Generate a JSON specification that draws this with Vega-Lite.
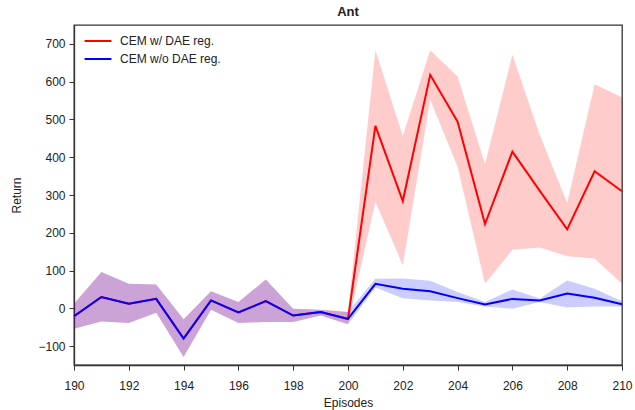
{
  "$schema": "https://vega.github.io/schema/vega-lite/v6.json",
  "width": 548,
  "height": 340,
  "autosize": {"type": "none"},
  "padding": {"left": 74, "top": 25, "right": 13, "bottom": 45},
  "title": {"text": "Ant", "fontSize": 13, "fontWeight": "bold", "font": "Liberation Sans", "color": "#222", "offset": 6},
  "config": {
    "font": "Liberation Sans",
    "view": {"stroke": "#333", "strokeWidth": 1.3},
    "axis": {"grid": false, "domainColor": "#333", "domainWidth": 1.3, "tickColor": "#333", "tickSize": 5, "labelFontSize": 12, "labelColor": "#222", "titleFontSize": 12, "titleFontWeight": "normal", "titleColor": "#222", "labelFlush": false, "labelOverlap": false}
  },
  "data": {"values": [
    {"s": "CEM w/ DAE reg.", "ep": 190, "m": -21, "lo": -54, "hi": 12},
    {"s": "CEM w/ DAE reg.", "ep": 191, "m": 30, "lo": -35, "hi": 96},
    {"s": "CEM w/ DAE reg.", "ep": 192, "m": 12, "lo": -39, "hi": 65},
    {"s": "CEM w/ DAE reg.", "ep": 193, "m": 25, "lo": -12, "hi": 63},
    {"s": "CEM w/ DAE reg.", "ep": 194, "m": -80, "lo": -129, "hi": -29},
    {"s": "CEM w/ DAE reg.", "ep": 195, "m": 21, "lo": -4, "hi": 45},
    {"s": "CEM w/ DAE reg.", "ep": 196, "m": -11, "lo": -39, "hi": 17},
    {"s": "CEM w/ DAE reg.", "ep": 197, "m": 19, "lo": -36, "hi": 76},
    {"s": "CEM w/ DAE reg.", "ep": 198, "m": -19, "lo": -36, "hi": -1},
    {"s": "CEM w/ DAE reg.", "ep": 199, "m": -10, "lo": -19, "hi": -4},
    {"s": "CEM w/ DAE reg.", "ep": 200, "m": -28, "lo": -42, "hi": -10},
    {"s": "CEM w/ DAE reg.", "ep": 201, "m": 483, "lo": 282, "hi": 683},
    {"s": "CEM w/ DAE reg.", "ep": 202, "m": 284, "lo": 114, "hi": 456},
    {"s": "CEM w/ DAE reg.", "ep": 203, "m": 618, "lo": 552, "hi": 683},
    {"s": "CEM w/ DAE reg.", "ep": 204, "m": 494, "lo": 375, "hi": 614},
    {"s": "CEM w/ DAE reg.", "ep": 205, "m": 223, "lo": 65, "hi": 382},
    {"s": "CEM w/ DAE reg.", "ep": 206, "m": 415, "lo": 155, "hi": 671},
    {"s": "CEM w/ DAE reg.", "ep": 207, "m": 311, "lo": 161, "hi": 459},
    {"s": "CEM w/ DAE reg.", "ep": 208, "m": 209, "lo": 138, "hi": 279},
    {"s": "CEM w/ DAE reg.", "ep": 209, "m": 363, "lo": 132, "hi": 593},
    {"s": "CEM w/ DAE reg.", "ep": 210, "m": 310, "lo": 65, "hi": 559},
    {"s": "CEM w/o DAE reg.", "ep": 190, "m": -21, "lo": -54, "hi": 12},
    {"s": "CEM w/o DAE reg.", "ep": 191, "m": 30, "lo": -35, "hi": 96},
    {"s": "CEM w/o DAE reg.", "ep": 192, "m": 12, "lo": -39, "hi": 65},
    {"s": "CEM w/o DAE reg.", "ep": 193, "m": 25, "lo": -12, "hi": 63},
    {"s": "CEM w/o DAE reg.", "ep": 194, "m": -80, "lo": -129, "hi": -29},
    {"s": "CEM w/o DAE reg.", "ep": 195, "m": 21, "lo": -4, "hi": 45},
    {"s": "CEM w/o DAE reg.", "ep": 196, "m": -11, "lo": -39, "hi": 17},
    {"s": "CEM w/o DAE reg.", "ep": 197, "m": 19, "lo": -36, "hi": 76},
    {"s": "CEM w/o DAE reg.", "ep": 198, "m": -19, "lo": -36, "hi": -1},
    {"s": "CEM w/o DAE reg.", "ep": 199, "m": -10, "lo": -19, "hi": -4},
    {"s": "CEM w/o DAE reg.", "ep": 200, "m": -28, "lo": -42, "hi": -10},
    {"s": "CEM w/o DAE reg.", "ep": 201, "m": 65, "lo": 55, "hi": 78},
    {"s": "CEM w/o DAE reg.", "ep": 202, "m": 52, "lo": 27, "hi": 79},
    {"s": "CEM w/o DAE reg.", "ep": 203, "m": 45, "lo": 21, "hi": 73},
    {"s": "CEM w/o DAE reg.", "ep": 204, "m": 27, "lo": 17, "hi": 43},
    {"s": "CEM w/o DAE reg.", "ep": 205, "m": 10, "lo": 5, "hi": 17},
    {"s": "CEM w/o DAE reg.", "ep": 206, "m": 25, "lo": -1, "hi": 50},
    {"s": "CEM w/o DAE reg.", "ep": 207, "m": 21, "lo": 17, "hi": 26},
    {"s": "CEM w/o DAE reg.", "ep": 208, "m": 39, "lo": 2, "hi": 74},
    {"s": "CEM w/o DAE reg.", "ep": 209, "m": 28, "lo": 5, "hi": 52},
    {"s": "CEM w/o DAE reg.", "ep": 210, "m": 11, "lo": 5, "hi": 19}
  ]},
  "encoding": {
    "x": {"field": "ep", "type": "quantitative", "title": "Episodes",
      "scale": {"domain": [190, 210], "nice": false, "zero": false},
      "axis": {"values": [190, 192, 194, 196, 198, 200, 202, 204, 206, 208, 210], "labelPadding": 10, "titlePadding": 6}},
    "color": {"field": "s", "type": "nominal",
      "scale": {"domain": ["CEM w/ DAE reg.", "CEM w/o DAE reg."], "range": ["#ff0000", "#0000ff"]},
      "legend": {"title": null, "orient": "none", "legendX": 16, "legendY": 8, "symbolType": "M-2,0H2", "symbolSize": 180, "symbolStrokeWidth": 2, "symbolOpacity": 1, "symbolFillColor": "transparent", "labelFontSize": 12, "labelColor": "#222", "labelOffset": 14, "rowPadding": 4}}
  },
  "layer": [
    {
      "mark": {"type": "area", "fillOpacity": 0.2},
      "encoding": {
        "y": {"field": "lo", "type": "quantitative", "title": "Return",
          "scale": {"domain": [-150, 750], "nice": false, "zero": false},
          "axis": {"values": [-100, 0, 100, 200, 300, 400, 500, 600, 700], "labelPadding": 4, "titlePadding": 14}},
        "y2": {"field": "hi"}
      }
    },
    {
      "mark": {"type": "line", "strokeWidth": 2},
      "encoding": {
        "y": {"field": "m", "type": "quantitative"}
      }
    }
  ]
}
